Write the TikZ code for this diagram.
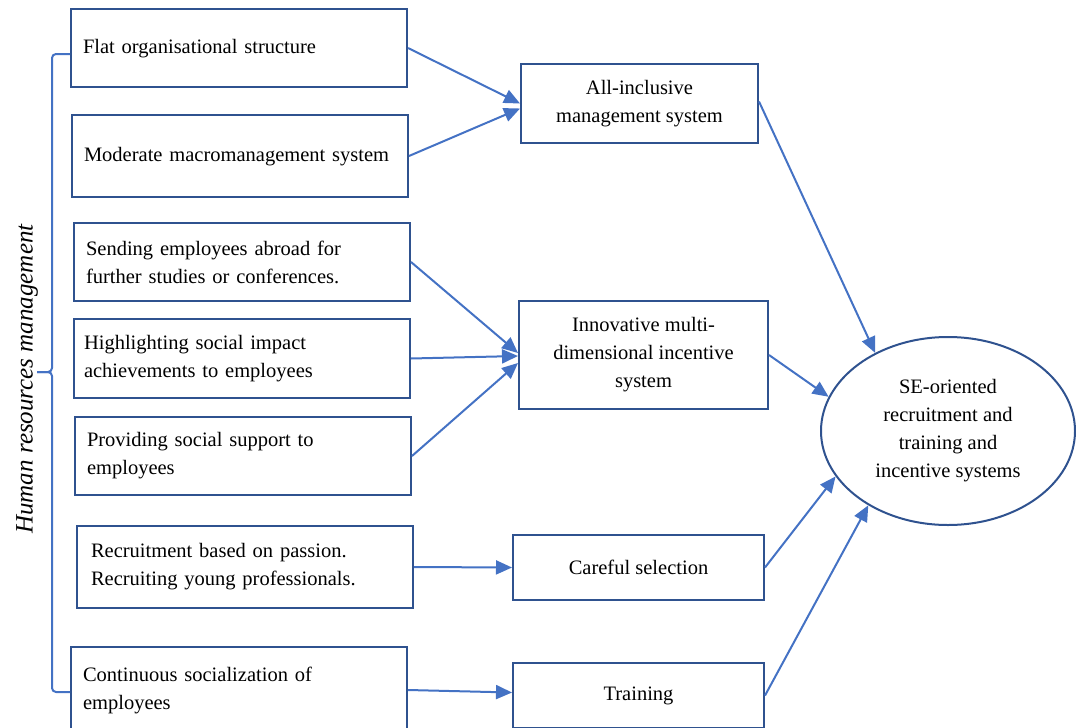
\documentclass[tikz,border=0pt]{standalone}
\usepackage{fontspec}
\setmainfont{Liberation Serif}
\usepackage{tikz}
\usetikzlibrary{shapes.geometric, arrows.meta, positioning, calc}
\definecolor{boxblue}{RGB}{47,82,143}
\definecolor{arrowblue}{RGB}{68,114,196}

\begin{document}
\begin{tikzpicture}[
    x=1pt, y=-1pt,
    practice/.style={rectangle, draw=boxblue, line width=2pt, align=left, anchor=north west,
        text width=312pt, inner xsep=12pt, font=\fontsize{20.5}{28}\selectfont},
    system/.style={rectangle, draw=boxblue, line width=2pt, align=center, anchor=north west,
        font=\fontsize{20.5}{28}\selectfont},
    outcome/.style={ellipse, draw=boxblue, line width=2pt, align=center, inner sep=0pt,
        font=\fontsize{20.5}{28}\selectfont},
    arrow/.style={-{Triangle[length=16pt, width=14pt]}, line width=2pt, draw=arrowblue},
    hrmbrace/.style={draw=arrowblue, line width=2pt, rounded corners=4pt}
]
    \useasboundingbox (0,0) rectangle (1076,728);

    % Human resources management practices
    \node[practice, minimum height=78pt] (flat) at (70,8) {\strut Flat organisational structure};
    \node[practice, minimum height=82pt] (moderate) at (71,114) {\strut Moderate macromanagement system};
    \node[practice, minimum height=78pt] (sending) at (73,222) {Sending employees abroad for\\further studies or conferences.};
    \node[practice, minimum height=79pt, inner xsep=10pt, text width=316pt] (highlight) at (73,318) {Highlighting social impact\\achievements to employees};
    \node[practice, minimum height=78pt] (providing) at (74,416) {Providing social support to\\employees};
    \node[practice, minimum height=82pt, inner xsep=14pt, text width=308pt] (recruit) at (76,525) {Recruitment based on passion.\\Recruiting young professionals.};
    \node[practice, minimum height=86pt] (continuous) at (70,646) {Continuous socialization of\\employees};

    % Systems
    \node[system, minimum width=237pt, minimum height=79pt] (allinc) at (520,63) {All-inclusive\\management system};
    \node[system, minimum width=249pt, minimum height=108pt] (innov) at (518,300) {Innovative multi-\\dimensional incentive\\system};
    \node[system, minimum width=251pt, minimum height=65pt] (careful) at (512,534) {Careful selection};
    \node[system, minimum width=251pt, minimum height=65pt] (training) at (512,662) {Training};

    % Outcome
    \node[outcome, minimum width=254pt, minimum height=188pt] (goal) at (948,431) {SE-oriented\\recruitment and\\training and\\incentive systems};

    % Brace and side label
    \coordinate (bracetop) at ([yshift=-6pt]flat.west);
    \coordinate (bracebot) at ([yshift=-2pt]continuous.west);
    \coordinate (bracetip) at (37,372);
    \draw[hrmbrace] (bracetop) -- ($(bracetop)+(-18,0)$) |- (bracetip);
    \draw[hrmbrace] (bracebot) -- ($(bracebot)+(-18,0)$) |- (bracetip);
    \node[rotate=90, font=\fontsize{25}{28}\selectfont\itshape] (hrm) at (27,379) {Human resources management};

    % Arrows to systems
    \draw[arrow] (flat.east) -- (allinc.west);
    \draw[arrow] (moderate.east) -- ([yshift=-5pt]allinc.west);
    \draw[arrow] (sending.east) -- ([yshift=2pt]innov.west);
    \draw[arrow] (highlight.east) -- ([yshift=-1pt]innov.west);
    \draw[arrow] (providing.east) -- ([yshift=-8pt]innov.west);
    \draw[arrow] (recruit.east) -- (careful.west);
    \draw[arrow] (continuous.east) -- ([yshift=3pt]training.west);

    % Arrows to outcome
    \draw[arrow] ([yshift=2pt]allinc.east) -- (goal.133);
    \draw[arrow] (innov.east) -- (goal.164);
    \draw[arrow] (careful.east) -- (goal.202);
    \draw[arrow] (training.east) -- (goal.223);

\end{tikzpicture}
\end{document}
